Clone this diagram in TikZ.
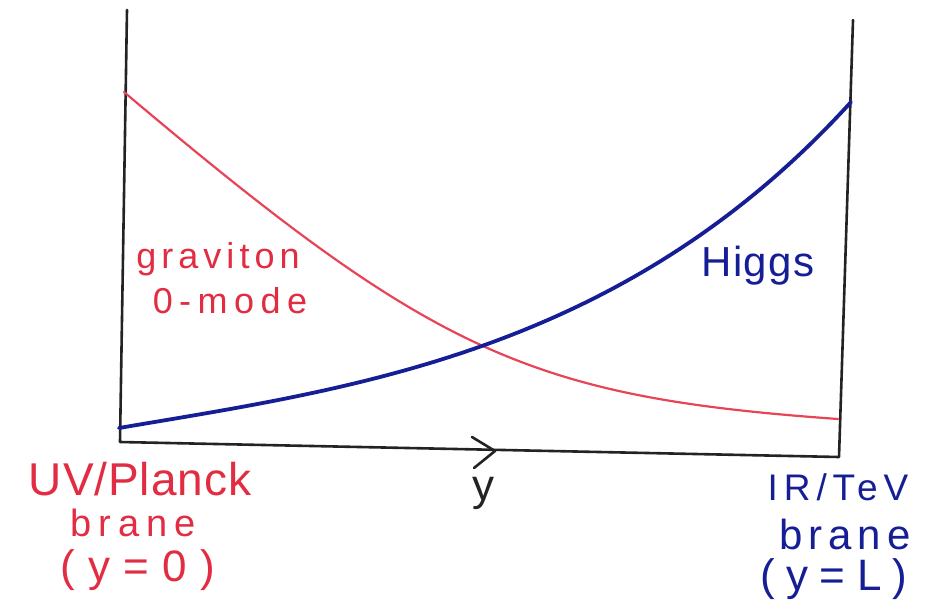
\documentclass[tikz,border=0pt]{standalone}
\usepackage{fontspec}
\setmainfont{Liberation Sans}
\definecolor{penred}{RGB}{226,44,66}
\definecolor{curvered}{RGB}{232,68,88}
\definecolor{penblue}{RGB}{22,30,150}
\definecolor{penblack}{RGB}{35,35,35}
\begin{document}
\begin{tikzpicture}[x=1pt,y=-1pt,
  axisline/.style={penblack,line width=2.6pt,line join=round,line cap=round},
  redcurve/.style={curvered,line width=2.2pt,line cap=round},
  bluecurve/.style={penblue,line width=3.8pt,line cap=round},
  lbl/.style={inner sep=0pt,anchor=base},
  redlabel/.style={lbl,text=penred},
  bluelabel/.style={lbl,text=penblue}]
\useasboundingbox (0,0) rectangle (941,607);
% axes
\coordinate (tl) at (127,10);
\coordinate (bl) at (120,442);
\coordinate (br) at (839,457);
\coordinate (tr) at (853,20);
\draw[axisline] (tl) -- (bl) -- (br) -- (tr);
% arrow chevron on the y axis
\coordinate (ca) at (472,437);
\coordinate (cb) at (495,451);
\coordinate (cc) at (474,468);
\draw[axisline] (ca) -- (cb) -- (cc);
% graviton zero mode
\coordinate (r0) at (124,92);
\coordinate (r1) at (838,419);
\draw[redcurve] (r0) .. controls (433,353) and (529,397) .. (r1);
% Higgs
\coordinate (b0) at (119,428);
\coordinate (b1) at (851,102);
\draw[bluecurve] (b0) .. controls (348,389) and (622,354) .. (b1);
% labels
\node[redlabel,font=\fontsize{36}{40}\selectfont\addfontfeature{LetterSpace=14}] (grav) at (218,268) {graviton};
\node[redlabel,font=\fontsize{36}{40}\selectfont\addfontfeature{LetterSpace=18}] (zmode) at (230,313) {0-mode};
\node[bluelabel,font=\fontsize{42}{44}\selectfont\addfontfeature{LetterSpace=3}] (higgs) at (758,276) {Higgs};
\node[lbl,text=penblack,font=\fontsize{44}{44}\selectfont] (ylab) at (483,500) {y};
\node[redlabel,font=\fontsize{46}{48}\selectfont\addfontfeature{LetterSpace=2}] (uv) at (140,495) {UV/Planck};
\node[redlabel,font=\fontsize{38}{40}\selectfont\addfontfeature{LetterSpace=18}] (brl) at (133,536) {brane};
\node[redlabel,font=\fontsize{44}{44}\selectfont\addfontfeature{LetterSpace=30}] (y0) at (138,581) {(y=0)};
\node[bluelabel,font=\fontsize{37}{40}\selectfont\addfontfeature{LetterSpace=16}] (ir) at (838,500) {IR/TeV};
\node[bluelabel,font=\fontsize{42}{44}\selectfont\addfontfeature{LetterSpace=14}] (brr) at (845,549) {brane};
\node[bluelabel,font=\fontsize{44}{44}\selectfont\addfontfeature{LetterSpace=26}] (yl) at (834,590) {(y=L)};
\end{tikzpicture}
\end{document}
